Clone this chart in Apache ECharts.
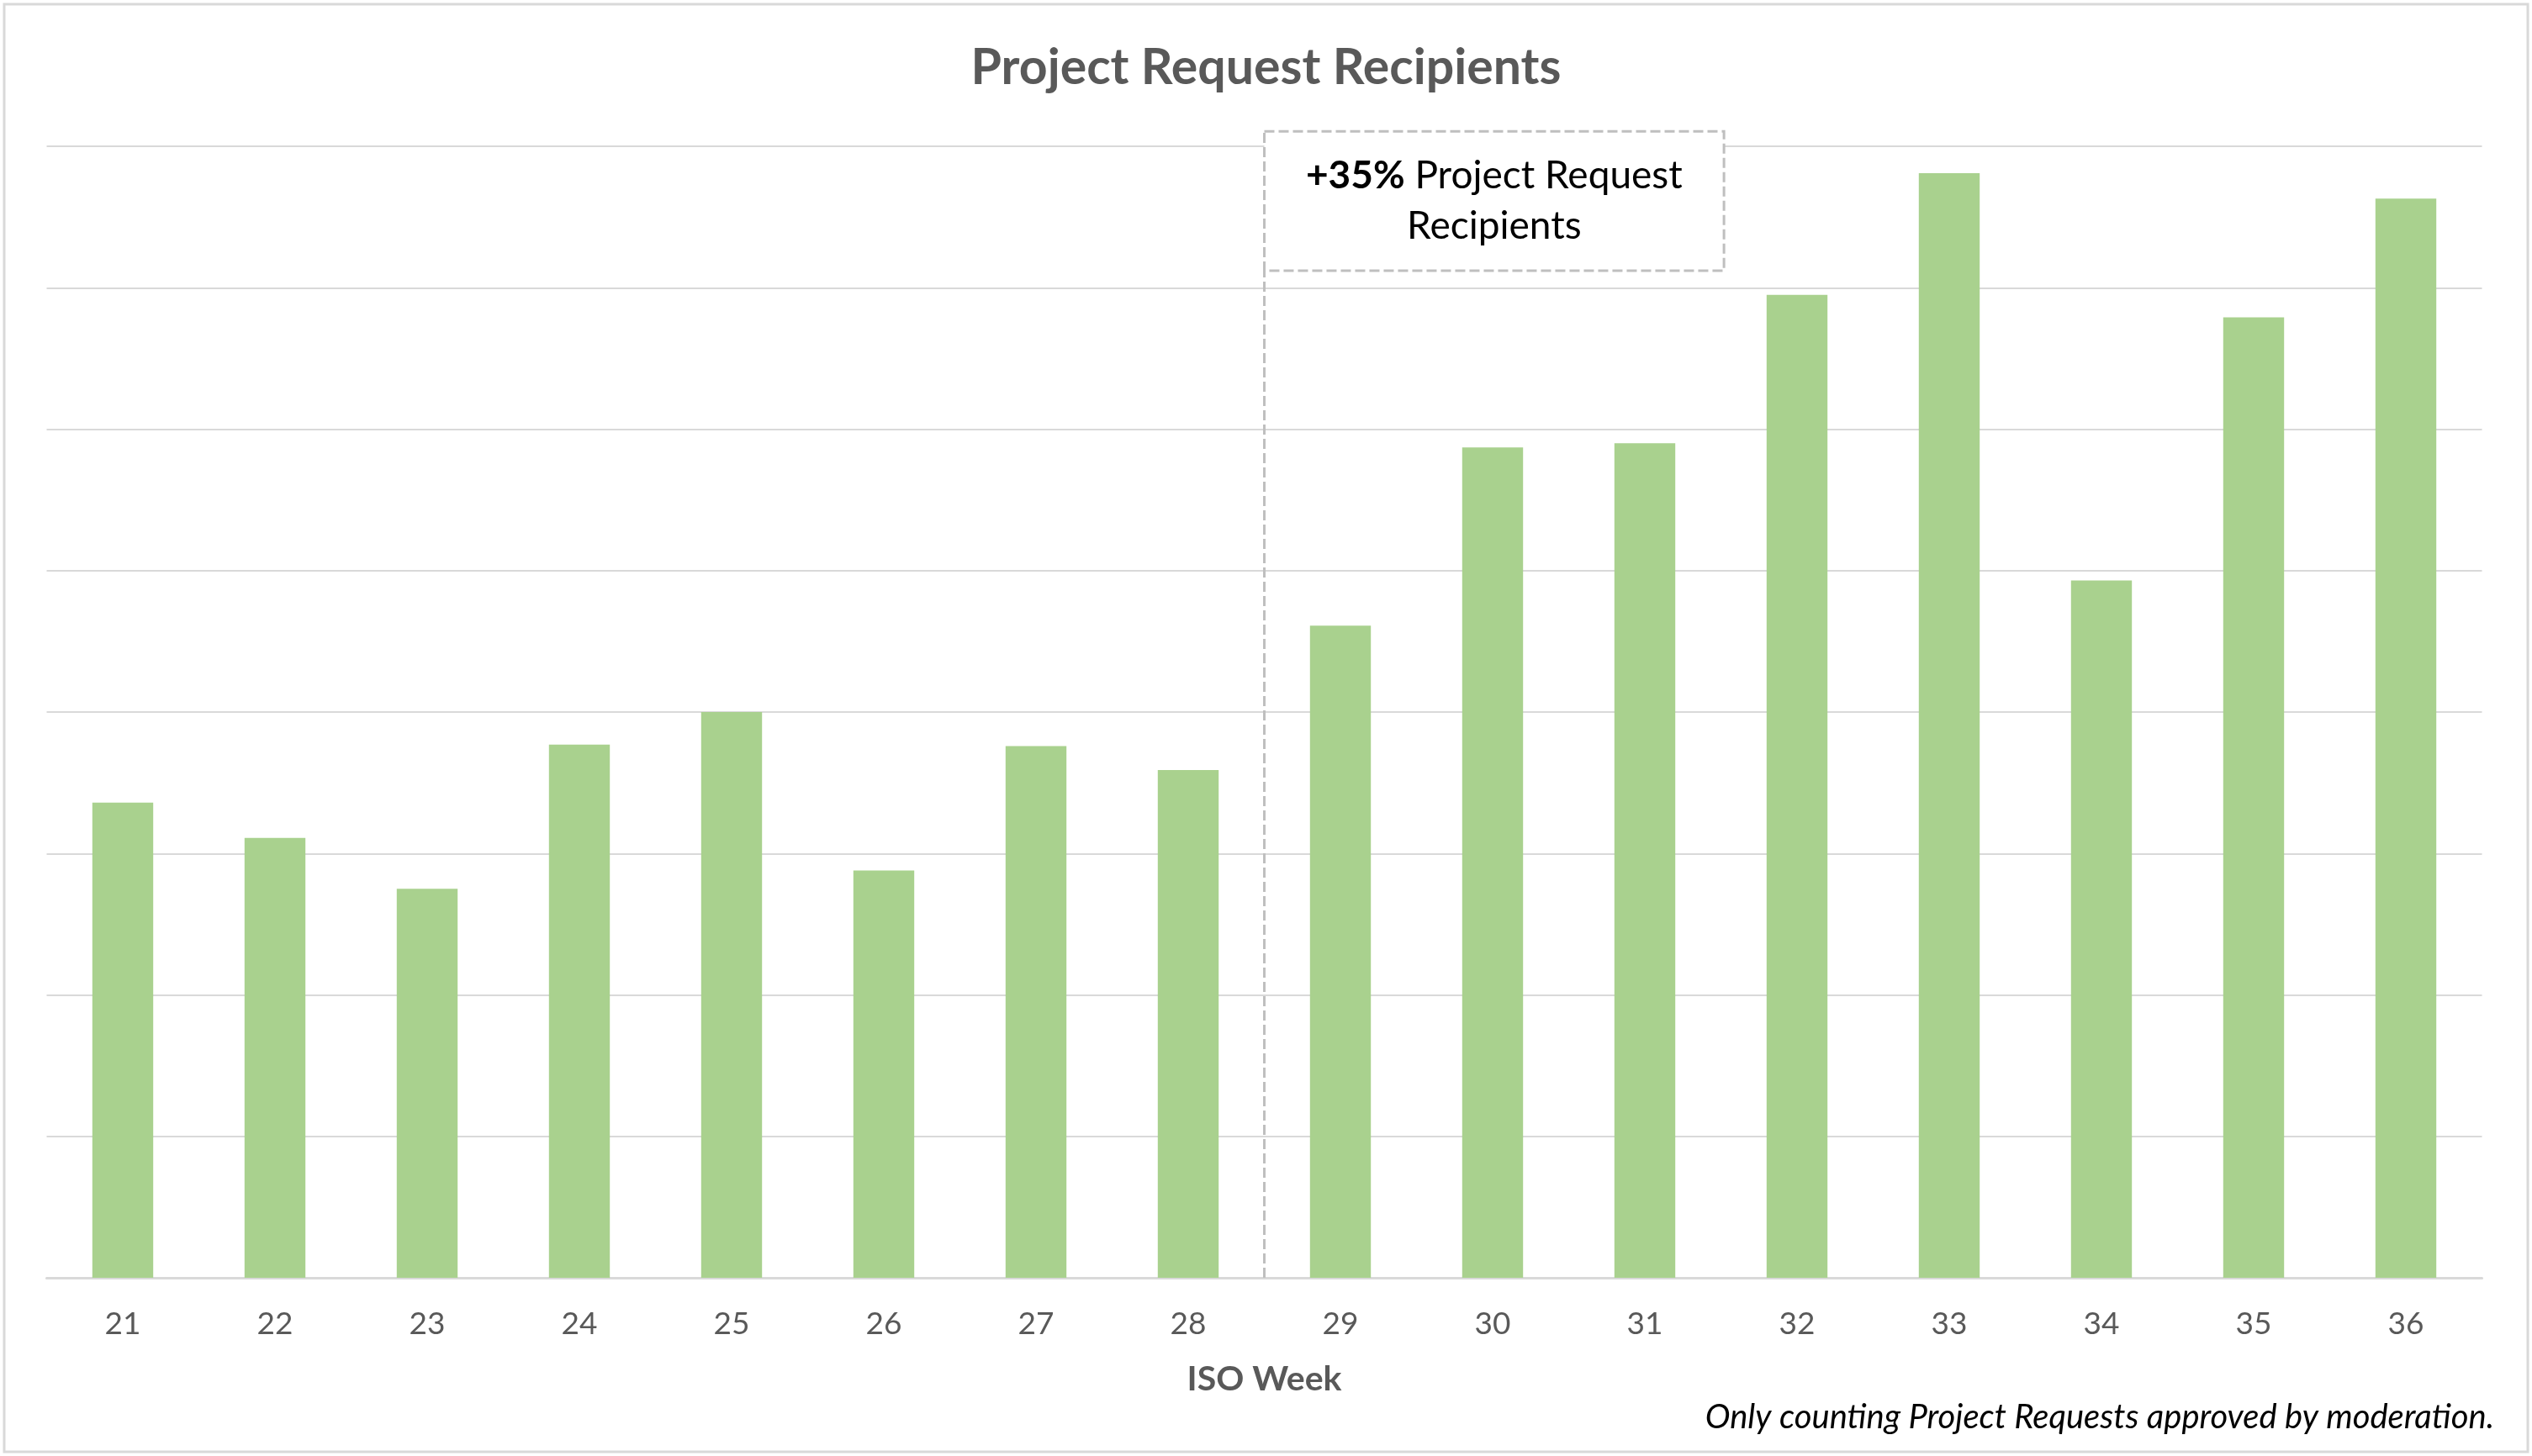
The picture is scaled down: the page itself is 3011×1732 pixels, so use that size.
<!DOCTYPE html>
<html>
<head>
<meta charset="utf-8">
<script src="https://cdn.jsdelivr.net/npm/echarts@6/dist/echarts.min.js"></script>
<style>
html,body{margin:0;padding:0;background:#fff;}
#chart{width:3011px;height:1732px;}
</style>
</head>
<body>
<div id="chart"></div>
<script>
const weeks = ['21','22','23','24','25','26','27','28','29','30','31','32','33','34','35','36'];
const recipients = [33.6, 31.1, 27.5, 37.7, 40.0, 28.8, 37.6, 35.9, 46.1, 58.7, 59.0, 69.5, 78.1, 49.3, 67.9, 76.3];
const yTicks = [0, 10, 20, 30, 40, 50, 60, 70, 80];
const chartTitle = 'Project Request Recipients';
const axisTitle = 'ISO Week';
const noteText = 'Only counting Project Requests approved by moderation.';
const annotationBold = '+35%';
const annotationRest = ' Project Request';
const annotationLine2 = 'Recipients';
// annotation anchors in data space: split between week 28 and 29, box spans to ~week 31.5
const splitIndex = 7.5;
const boxRightIndex = 10.52;
const boxBottomValue = 71.2;
const boxTopValue = 81.05;

const FONT = 'Lato, "Open Sans", sans-serif';
const chart = echarts.init(document.getElementById('chart'), null, {renderer: 'canvas'});

const option = {
  backgroundColor: '#fff',
  animation: false,
  title: {
    text: chartTitle,
    left: 'center',
    top: 46,
    textStyle: {fontFamily: FONT, fontWeight: 'bold', fontSize: 59, color: '#595959'}
  },
  grid: {left: 55.5, right: 59.5, top: 174, bottom: 212, containLabel: false},
  xAxis: [{
    type: 'category',
    data: weeks,
    axisLine: {lineStyle: {color: '#D9D9D9', width: 3}},
    axisTick: {show: false},
    axisLabel: {fontFamily: FONT, fontSize: 37, color: '#595959', margin: 37},
    name: axisTitle,
    nameLocation: 'middle',
    nameGap: 100,
    nameTextStyle: {fontFamily: FONT, fontWeight: 'bold', fontSize: 41, color: '#595959'}
  }, {
    type: 'value',
    min: -0.5,
    max: weeks.length - 0.5,
    show: false
  }],
  yAxis: {
    type: 'value',
    min: yTicks[0],
    max: yTicks[yTicks.length - 1],
    interval: yTicks[1] - yTicks[0],
    axisLabel: {show: false},
    axisLine: {show: false},
    axisTick: {show: false},
    splitLine: {lineStyle: {color: '#D9D9D9', width: 2}}
  },
  series: [{
    type: 'bar',
    data: recipients,
    barWidth: '40%',
    itemStyle: {color: '#A9D18E'}
  }, {
    type: 'line',
    xAxisIndex: 1,
    data: [[splitIndex, 0], [splitIndex, boxBottomValue]],
    symbol: 'none',
    lineStyle: {color: '#BFBFBF', width: 3, type: [12, 5]},
    z: 5
  }]
};
chart.setOption(option);

const p1 = chart.convertToPixel({xAxisIndex: 1, yAxisIndex: 0}, [splitIndex, boxTopValue]);
const p2 = chart.convertToPixel({xAxisIndex: 1, yAxisIndex: 0}, [boxRightIndex, boxBottomValue]);
const bx = p1[0], by = p1[1], bw = p2[0] - p1[0], bh = p2[1] - p1[1];
const frame = {x: 5, y: 5, w: 3001, h: 1722};

chart.setOption({
  graphic: [
    {
      type: 'rect', z: 0, silent: true,
      shape: {x: frame.x, y: frame.y, width: frame.w, height: frame.h},
      style: {fill: 'none', stroke: '#D9D9D9', lineWidth: 3}
    },
    {
      type: 'rect', z: 10, silent: true,
      shape: {x: bx, y: by, width: bw, height: bh},
      style: {fill: '#fff', stroke: '#BFBFBF', lineWidth: 3, lineDash: [12, 5]}
    },
    {
      type: 'text', z: 11, silent: true,
      x: bx + bw / 2, y: by + bh / 2,
      style: {
        text: '{b|' + annotationBold + '}{r|' + annotationRest + '}\n{r|' + annotationLine2 + '}',
        align: 'center', verticalAlign: 'middle',
        rich: {
          b: {fontFamily: FONT, fontWeight: 'bold', fontSize: 46, color: '#000', lineHeight: 60},
          r: {fontFamily: FONT, fontSize: 46, color: '#000', lineHeight: 60}
        }
      }
    },
    {
      type: 'text', z: 11, silent: true,
      x: 2966, y: 1686,
      style: {
        text: noteText, align: 'right', verticalAlign: 'middle',
        fontFamily: FONT, fontStyle: 'italic', fontSize: 40, fill: '#000'
      }
    }
  ]
});
</script>
</body>
</html>
